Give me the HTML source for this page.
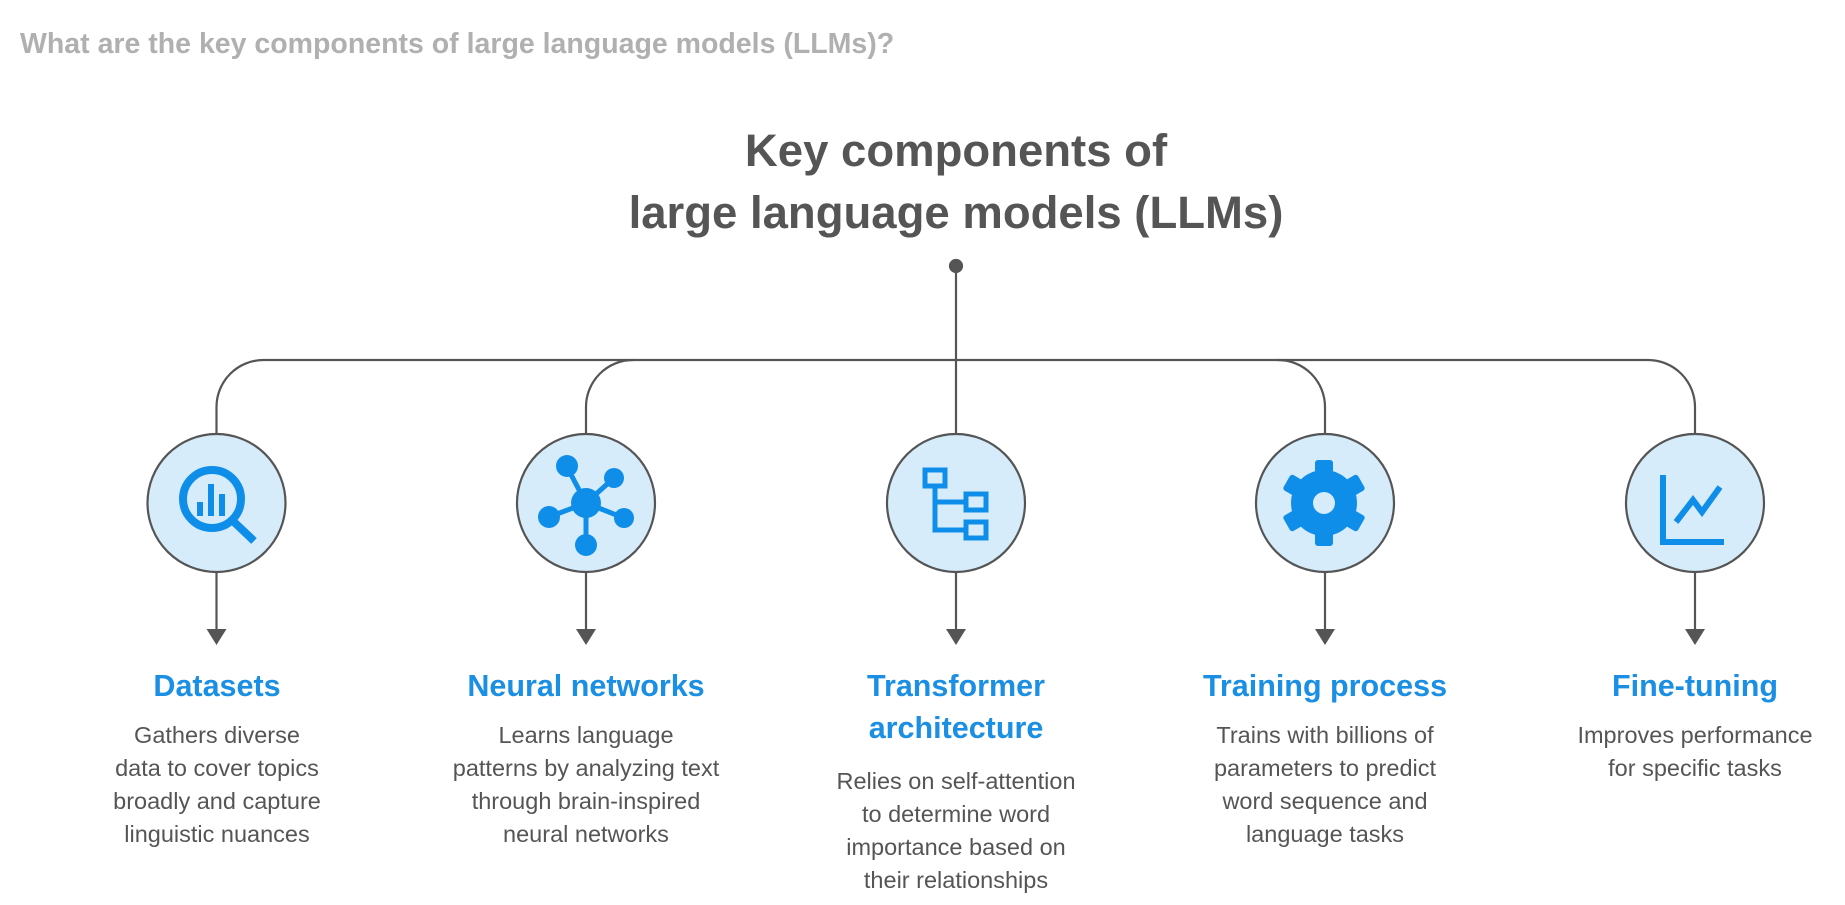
<!DOCTYPE html>
<html><head><meta charset="utf-8"><style>
html,body{margin:0;padding:0;background:#fff;}
body{width:1845px;height:905px;position:relative;overflow:hidden;font-family:"Liberation Sans",Arial,sans-serif;}
svg{position:absolute;left:0;top:0;}
</style></head><body>
<svg width="1845" height="905" viewBox="0 0 1845 905" xmlns="http://www.w3.org/2000/svg" font-family="Liberation Sans, Arial, sans-serif">
<text x="20" y="53" font-size="28.5" font-weight="bold" fill="#b0b0b0">What are the key components of large language models (LLMs)?</text>
<text x="956" y="166" font-size="45.5" font-weight="bold" fill="#555" text-anchor="middle">Key components of</text>
<text x="956" y="228" font-size="45.5" font-weight="bold" fill="#555" text-anchor="middle">large language models (LLMs)</text>
<g stroke="#555" stroke-width="2.2" fill="none">
<circle cx="956" cy="266" r="6" fill="#555"/>
<line x1="956" y1="266" x2="956" y2="434"/>
<path d="M216.5 434 V407 A47 47 0 0 1 263.5 360 H1648 A47 47 0 0 1 1695 407 V434"/>
<path d="M586 434 V407 A47 47 0 0 1 633 360"/>
<path d="M1278 360 A47 47 0 0 1 1325 407 V434"/>
</g>
<g stroke="#555" stroke-width="2.2" fill="#d6ecfa">
<circle cx="216.5" cy="503" r="69"/>
<circle cx="586" cy="503" r="69"/>
<circle cx="956" cy="503" r="69"/>
<circle cx="1325" cy="503" r="69"/>
<circle cx="1695" cy="503" r="69"/>
</g>
<g stroke="#555" stroke-width="2.2">
<line x1="216.5" y1="572" x2="216.5" y2="632"/>
<line x1="586" y1="572" x2="586" y2="632"/>
<line x1="956" y1="572" x2="956" y2="632"/>
<line x1="1325" y1="572" x2="1325" y2="632"/>
<line x1="1695" y1="572" x2="1695" y2="632"/>
</g>
<g fill="#555">
<path d="M206.5 629 h20 l-10 16z"/>
<path d="M576 629 h20 l-10 16z"/>
<path d="M946 629 h20 l-10 16z"/>
<path d="M1315 629 h20 l-10 16z"/>
<path d="M1685 629 h20 l-10 16z"/>
</g>
<g fill="#0f8ee9" stroke="#0f8ee9">
<circle cx="212" cy="499" r="29" fill="none" stroke-width="8"/>
<line x1="233" y1="521" x2="254" y2="541" stroke-width="8"/>
<rect x="197" y="502" width="6" height="14" stroke="none"/>
<rect x="208" y="484" width="6" height="32" stroke="none"/>
<rect x="219" y="494" width="6" height="22" stroke="none"/>
<g stroke-width="5">
<line x1="586" y1="503" x2="567" y2="467"/><line x1="586" y1="503" x2="614" y2="478"/>
<line x1="586" y1="503" x2="549" y2="517"/><line x1="586" y1="503" x2="624" y2="518"/>
<line x1="586" y1="503" x2="586" y2="544"/>
</g>
<circle cx="586" cy="503" r="15" stroke="none"/>
<circle cx="567" cy="466" r="11" stroke="none"/>
<circle cx="614" cy="478" r="10" stroke="none"/>
<circle cx="549" cy="517" r="11" stroke="none"/>
<circle cx="624" cy="518" r="10" stroke="none"/>
<circle cx="586" cy="545" r="11" stroke="none"/>
<g fill="none" stroke-width="5">
<rect x="925" y="470" width="20" height="16"/>
<rect x="966" y="494" width="20" height="16"/>
<rect x="966" y="522" width="20" height="16"/>
<path d="M935 486 V530 H966 M935 502 H966"/>
</g>
<g stroke="none">
<circle cx="1324" cy="503" r="33"/>
<rect x="1315" y="460" width="18" height="86" rx="3"/>
<rect x="1315" y="460" width="18" height="86" rx="3" transform="rotate(60 1324 503)"/>
<rect x="1315" y="460" width="18" height="86" rx="3" transform="rotate(120 1324 503)"/>
</g>
<circle cx="1324" cy="503" r="11" fill="#d6ecfa" stroke="none"/>
<g fill="none" stroke-width="6">
<path d="M1663 475 V542 H1724"/>
<path d="M1676 522 L1693 500 L1702 512 L1720 487"/>
</g>
</g>
<g font-size="30.5" font-weight="bold" fill="#1a8fe3" text-anchor="middle">
<text x="217" y="696">Datasets</text>
<text x="586" y="696">Neural networks</text>
<text x="956" y="696">Transformer</text>
<text x="956" y="738">architecture</text>
<text x="1325" y="696">Training process</text>
<text x="1695" y="696">Fine-tuning</text>
</g>
<g font-size="23.5" fill="#555" text-anchor="middle">
<text x="217" y="743">Gathers diverse</text>
<text x="217" y="776">data to cover topics</text>
<text x="217" y="809">broadly and capture</text>
<text x="217" y="842">linguistic nuances</text>
<text x="586" y="743">Learns language</text>
<text x="586" y="776">patterns by analyzing text</text>
<text x="586" y="809">through brain-inspired</text>
<text x="586" y="842">neural networks</text>
<text x="956" y="789">Relies on self-attention</text>
<text x="956" y="822">to determine word</text>
<text x="956" y="855">importance based on</text>
<text x="956" y="888">their relationships</text>
<text x="1325" y="743">Trains with billions of</text>
<text x="1325" y="776">parameters to predict</text>
<text x="1325" y="809">word sequence and</text>
<text x="1325" y="842">language tasks</text>
<text x="1695" y="743">Improves performance</text>
<text x="1695" y="776">for specific tasks</text>
</g>
</svg>
</body></html>
